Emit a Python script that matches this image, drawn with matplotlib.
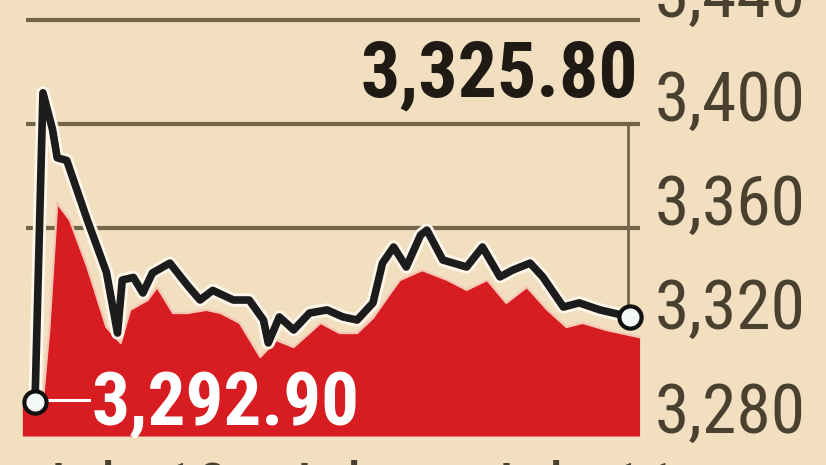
import matplotlib
matplotlib.use('Agg')
import matplotlib.pyplot as plt
import matplotlib.patheffects as pe

# minutes since open and index level
line_t = [0, 5, 11, 14, 20, 33, 45, 52, 55, 62, 68, 74, 85, 96, 104, 112,
          125, 135, 144, 147, 154, 163, 173, 184, 194, 203, 213, 219, 226,
          234, 243, 247, 257, 272, 282, 293, 301, 312, 320, 333, 343, 356, 375]
line_v = [3292.9, 3412, 3398, 3387, 3386, 3363, 3343, 3319.6, 3340, 3341,
          3335, 3342.7, 3346.5, 3338, 3332.3, 3336, 3332.3, 3332.3, 3324.6,
          3315.8, 3325.8, 3320.8, 3327.3, 3328.5, 3325.8, 3324.6, 3331.2,
          3346.5, 3352.7, 3345, 3357.3, 3359.2, 3347.7, 3345, 3352.7, 3341.2,
          3343.8, 3346.5, 3341.2, 3329.6, 3331.2, 3328.5, 3325.8]

shade_t = [-8, 5, 9, 14, 22, 33, 45, 54, 60, 71, 77, 87, 96, 108, 117, 129,
           142, 152, 163, 180, 192, 203, 213, 224, 230, 244, 260, 272, 285,
           297, 310, 323, 335, 345, 360, 381]
shade_v = [3291.9, 3293.8, 3320.8, 3369.6, 3363, 3345, 3321.9, 3315.8,
           3328.5, 3332.3, 3337.3, 3327.3, 3327.3, 3328.5, 3327.3, 3323.5,
           3310.4, 3316.9, 3314.2, 3323.5, 3319.6, 3319.6, 3325.4, 3335,
           3340, 3343.8, 3340, 3336.2, 3340, 3331.2, 3337.3, 3328.5, 3321.9,
           3323.5, 3320.8, 3318]

y_ticks = [3280, 3320, 3360, 3400, 3440]
y_labels = ['3,280', '3,320', '3,360', '3,400', '3,440']
grid_levels = [3360, 3400, 3440]
date_t = [-1, 154, 281]
date_labels = ['July 10', 'July', 'July 11']
open_v = 3292.90
close_v = 3325.80

BG = '#f1dfc0'
GRID = '#74654a'
TXT = '#4a4030'
RED = '#d71d22'
NARROW = ['Roboto Condensed', 'DejaVu Sans']

fig = plt.figure(figsize=(8.26, 4.65), dpi=100)
fig.patch.set_facecolor(BG)
ax = fig.add_axes([0, 0, 1, 1])
ax.set_facecolor(BG)
ax.set_xlim(-22.06, 498.5)
ax.set_ylim(3268.85, 3447.69)
ax.axis('off')

for g in grid_levels:
    ax.plot([-5.7, 381], [g, g], color=GRID, lw=3, solid_capstyle='butt', zorder=1)

# guide from the 3,400 line down to the closing point
ax.plot([374, 374], [3400, close_v], color=GRID, lw=2, zorder=1)

ax.fill_between(shade_t, 3280, shade_v, color=RED, lw=0, zorder=2)
ax.plot(shade_t[1:], shade_v[1:], color='#f7c6b4', lw=1.6, zorder=2.5)

ax.plot(line_t, line_v, color='#1c1c1c', lw=5.5, solid_joinstyle='round',
        solid_capstyle='round', zorder=3,
        path_effects=[pe.Stroke(linewidth=9.5, foreground='#fff7ea'), pe.Normal()])

# leader from opening point to its label
ax.plot([0, 34], [open_v + 1.0, open_v + 1.0], color='white', lw=2.2, zorder=3)
ax.plot([line_t[0], line_t[-1]], [open_v, close_v], ls='none', marker='o',
        ms=16, mfc='#f4f8f8', mec='#111111', mew=3, zorder=4)

for v, lab in zip(y_ticks, y_labels):
    ax.text(390.7, v + 1.2, lab, ha='left', va='baseline', fontsize=50,
            fontstretch='condensed', color=TXT, family=NARROW, zorder=5)

ax.text(380, 3410.4, '3,325.80', ha='right', va='baseline', fontsize=56,
        fontstretch='condensed', fontweight='bold', color='#1f1a14',
        family=NARROW, zorder=5)
ax.text(35.5, 3284.2, '3,292.90', ha='left', va='baseline', fontsize=54,
        fontstretch='condensed', fontweight='bold', color='white',
        family=NARROW, zorder=5)

for t, lab in zip(date_t, date_labels):
    ax.text(t, 3270.8, lab, ha='left', va='top', fontsize=50, color=TXT,
            fontstretch='condensed', family=NARROW)

plt.savefig('out.png', dpi=100, facecolor=BG)
